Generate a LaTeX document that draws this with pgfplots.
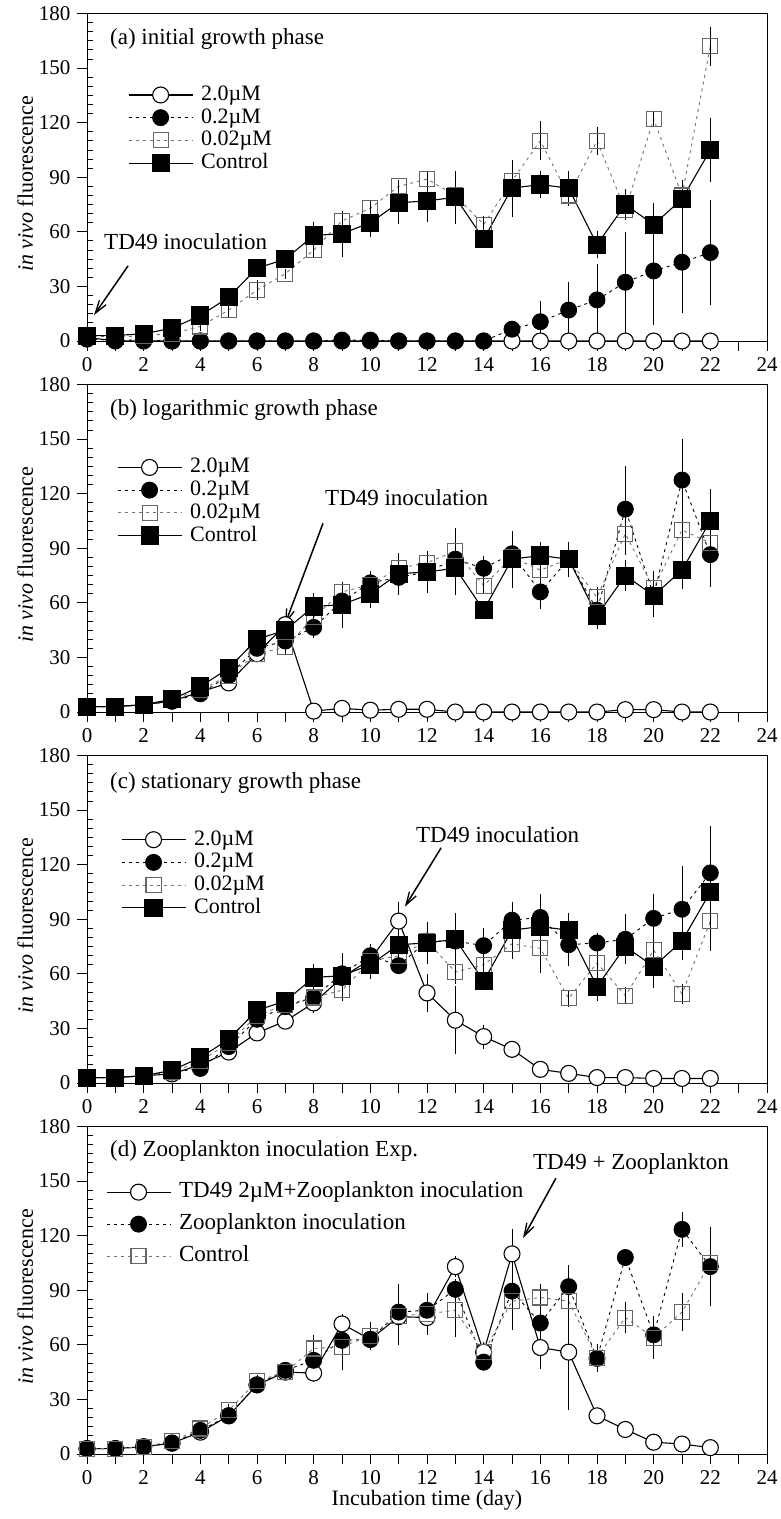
\documentclass[border=0pt]{standalone}
\usepackage{fontspec}
\setmainfont{Liberation Serif}
\usepackage{pgfplots}
\pgfplotsset{compat=1.18}
\usepackage{pgfplotstable}
\usetikzlibrary{arrows.meta}

% ---------- data: day, mean, error ----------
\pgfplotstableread{
x y e
0 3 0.5
1 3 0.5
2 4 0.5
3 7 1
4 14 1.5
5 24 2
6 40 2
7 45 2
8 58 6
9 59 11
10 65 6
11 76 10
12 77 10
13 79 13
14 56 3
15 84 14
16 86 6
17 84 8
18 53 6
19 75 7
20 64 10
21 78 9
22 105 16
}\ctrl

% (a) initial growth phase
\pgfplotstableread{
x y e
0 2 0
1 0 0
2 0 0
3 0 0
4 0 0
5 0 0
6 0 0
7 0 0
8 0 0
9 0 0
10 0 0
11 0 0
12 0 0
13 0 0
14 0 0
15 0 0
16 0 0
17 0 0
18 0 0
19 0 0
20 0 0
21 0 0
22 0 0
}\aA
\pgfplotstableread{
x y e
0 1 0
1 0.5 0
2 0.5 0
3 0 0
4 0 0
5 0 0
6 0 0
7 0 0
8 0 0
9 0.5 1
10 0.5 1
11 0 0
12 0 0
13 0 0
14 0 0
15 6.5 3
16 10.6 9.7
17 17 14
18 22.6 18
19 32.3 26
20 38.5 28
21 43.3 26
22 48.6 27
}\aB
\pgfplotstableread{
x y e
0 3 0.5
1 2 0.5
2 3 0.5
3 4 0.5
4 8 1
5 17 2
6 28 4
7 37 1
8 50 2
9 66 3
10 73 3
11 85 2
12 89 2
13 80 2
14 64 3
15 88 3
16 110 9
17 80 3
18 110 6
19 72 3
20 122 3
21 80 3
22 162 9
}\aC

% (b) logarithmic growth phase
\pgfplotstableread{
x y e
0 3 0
1 3 0
2 4 0
3 6 0.5
4 11 1
5 16 1
6 32 2
7 48 2
8 0.5 0
9 2 0
10 1 0
11 1.5 0
12 1.5 0
13 0 0
14 0 0
15 0 0
16 0 0
17 0 0
18 0 0
19 1.3 0
20 1.3 0
21 0 0
22 0 0
}\bA
\pgfplotstableread{
x y e
0 3 0
1 3 0
2 4 0
3 6 0.5
4 10 1
5 20 1
6 35 2
7 39 2
8 46.5 4
9 61 5
10 71 5
11 74 6
12 77 4
13 84 6
14 79 5
15 87 8
16 66 8
17 84 6
18 56 3
19 111.5 22
20 64 8
21 127.5 21
22 86.5 16
}\bB
\pgfplotstableread{
x y e
0 3 0
1 3 0
2 4 0
3 7 0.5
4 12 1
5 20 1
6 32 2
7 35.5 2
8 52 3
9 66 3
10 70 3
11 79 3
12 82 3
13 88.5 11
14 69.5 3
15 85 8
16 78 5
17 84 4
18 63 4
19 98 10
20 68 8
21 100 15
22 93 8
}\bC

% (c) stationary growth phase
\pgfplotstableread{
x y e
0 3 0
1 3 0
2 4 0
3 5 0.5
4 10 1
5 17 1
6 27.5 1
7 34 1
8 44 4
9 58 3
10 68 3
11 89 9
12 49.5 9
13 34.5 17
14 25.5 5
15 18.5 2
16 7.5 1
17 5.3 1
18 3 0.5
19 3 0.5
20 2.5 0.5
21 2.5 0.5
22 2.5 0.5
}\cA
\pgfplotstableread{
x y e
0 3 0
1 3 0
2 4 0
3 6 0.5
4 8 1
5 20 1
6 35 2
7 42 2
8 47 3
9 60 4
10 70 5
11 64.5 3
12 78 6
13 78 6
14 75.5 8
15 89.5 7
16 91 11
17 76 10
18 77 4
19 79 12
20 90.5 12
21 95.5 22
22 115.5 24
}\cB
\pgfplotstableread{
x y e
0 3 0
1 3 0
2 4 0
3 6 0.5
4 12 1
5 22 1
6 37 2
7 43 2
8 47 3
9 51 4
10 67 5
11 70 3
12 78 4
13 61 5
14 65 4
15 76.5 4
16 74 12
17 46.5 3
18 66 5
19 48 3
20 73 4
21 49 4
22 89 15
}\cC

% (d) zooplankton inoculation
\pgfplotstableread{
x y e
0 3 0
1 3 0
2 4 0
3 6 0.5
4 12 1
5 21 1
6 38 2
7 45 2
8 44.5 3
9 71.5 4
10 63 4
11 75.5 14
12 75 4
13 103 4
14 56 4
15 110 12
16 58.5 10
17 56 30
18 21 2
19 13.5 1
20 6.5 1
21 5.5 1
22 3.5 0.5
}\dA
\pgfplotstableread{
x y e
0 3 0
1 3 0
2 4 0
3 6 0.5
4 13 1
5 21 1
6 38 2
7 46 2
8 51.5 4
9 62.5 4
10 63 4
11 78 14
12 79 3
13 90.5 4
14 50.5 3
15 89.5 5
16 72 5
17 92 10
18 52.5 5
19 108 3
20 65.5 5
21 123.5 8
22 103 20
}\dB

\tikzset{
  txt/.style={font=\fontsize{23}{26}\selectfont, inner sep=0pt},
  arr/.style={line width=1.5pt, -{Straight Barb[length=13pt,width=8pt,line width=1.3pt]}},
}

\pgfplotsset{
  panel/.style={
    scale only axis, width=680pt, height=327.5pt,
    xmin=0, xmax=24, ymin=0, ymax=180,
    xtick={0,2,...,24}, minor x tick num=1,
    ytick={0,30,...,180},
    extra y ticks={5,10,15,20,25,35,40,45,50,55,65,70,75,80,85,95,100,105,110,115,125,130,135,140,145,155,160,165,170,175},
    extra y tick labels={},
    extra y tick style={tick align=inside, major tick length=6pt},
    tick align=outside, major tick length=10pt, minor tick length=10pt,
    xtick pos=bottom, ytick pos=left,
    tick style={black, line width=0.9pt},
    axis line style={line width=0.9pt},
    ticklabel style={font=\fontsize{21}{24}\selectfont},
    xticklabel style={yshift=-3pt},
    yticklabel style={xshift=-3pt},
    /pgf/number format/assume math mode=true,
    clip=false,
    ylabel={\textit{in vivo} fluorescence},
    ylabel style={font=\fontsize{22}{26}\selectfont, at={(axis description cs:-0.091,0.48)}, anchor=center},
    legend cell align=left,
    legend style={draw=none, fill=none, inner sep=0pt, outer sep=0pt, anchor=north west,
      font=\fontsize{22}{25}\selectfont, column sep=8pt, row sep=1.7pt,
      nodes={inner sep=0pt, text height=16pt, text depth=5pt}},
    legend image code/.code={\draw[mark repeat=2,mark phase=2] plot coordinates {(0pt,0pt) (32pt,0pt) (64pt,0pt)};},
  },
  eb/.style={/pgfplots/error bars/y dir=both, /pgfplots/error bars/y explicit,
    /pgfplots/error bars/error bar style={solid, black, line width=0.8pt},
    /pgfplots/error bars/error mark options={solid, black, mark size=3pt, line width=0.8pt}},
  sOpenC/.style={black, line width=1.1pt, mark=*, mark size=8pt, mark options={fill=white, solid, line width=1.1pt}},
  sFillC/.style={black, line width=0.9pt, dash pattern=on 3pt off 4pt, mark=*, mark size=8pt, mark options={fill=black, solid}},
  sOpenS/.style={black!55, line width=0.9pt, dash pattern=on 3pt off 4pt, mark=square, mark size=7.5pt, mark options={solid, draw=black!60, line width=1.1pt}},
  sFillS/.style={black, line width=1.1pt, mark=square*, mark size=8.5pt, mark options={solid, fill=black}},
}

\begin{document}
\begin{tikzpicture}
\useasboundingbox (0pt,0pt) rectangle (780pt,-1519pt);

% (a)
\begin{axis}[panel, at={(87pt,-341pt)}, anchor=south west,
  legend style={at={(axis cs:1.45,141)}}]
\addplot[sOpenC, eb] table[x=x, y=y, y error=e] {\aA};
\addlegendentry{2.0µM}
\addplot[sFillC, eb] table[x=x, y=y, y error=e] {\aB};
\addlegendentry{0.2µM}
\addplot[sOpenS, eb] table[x=x, y=y, y error=e] {\aC};
\addlegendentry{0.02µM}
\addplot[sFillS, eb] table[x=x, y=y, y error=e] {\ctrl};
\addlegendentry{Control}
\node[txt, anchor=west] at (axis cs:0.81,166) {(a) initial growth phase};
\node[txt, anchor=west] at (axis cs:0.6,54.5) {TD49 inoculation};
\draw[arr] (axis cs:1.45,41.3) -- (axis cs:0.25,14.3);
\end{axis}

% (b)
\begin{axis}[panel, at={(87pt,-712pt)}, anchor=south west,
  legend style={at={(axis cs:1.06,140.2)}}]
\addplot[sOpenC, eb] table[x=x, y=y, y error=e] {\bA};
\addlegendentry{2.0µM}
\addplot[sFillC, eb] table[x=x, y=y, y error=e] {\bB};
\addlegendentry{0.2µM}
\addplot[sOpenS, eb] table[x=x, y=y, y error=e] {\bC};
\addlegendentry{0.02µM}
\addplot[sFillS, eb] table[x=x, y=y, y error=e] {\ctrl};
\addlegendentry{Control}
\node[txt, anchor=west] at (axis cs:0.81,166) {(b) logarithmic growth phase};
\node[txt, anchor=west] at (axis cs:8.4,118) {TD49 inoculation};
\draw[arr] (axis cs:8.33,103.7) -- (axis cs:6.99,48.3);
\end{axis}

% (c)
\begin{axis}[panel, at={(87pt,-1083pt)}, anchor=south west,
  legend style={at={(axis cs:1.2,139.5)}}]
\addplot[sOpenC, eb] table[x=x, y=y, y error=e] {\cA};
\addlegendentry{2.0µM}
\addplot[sFillC, eb] table[x=x, y=y, y error=e] {\cB};
\addlegendentry{0.2µM}
\addplot[sOpenS, eb] table[x=x, y=y, y error=e] {\cC};
\addlegendentry{0.02µM}
\addplot[sFillS, eb] table[x=x, y=y, y error=e] {\ctrl};
\addlegendentry{Control}
\node[txt, anchor=west] at (axis cs:0.81,165) {(c) stationary growth phase};
\node[txt, anchor=west] at (axis cs:11.61,136.5) {TD49 inoculation};
\draw[arr] (axis cs:12.5,129.3) -- (axis cs:11.22,96.9);
\end{axis}

% (d)
\begin{axis}[panel, at={(87pt,-1454pt)}, anchor=south west,
  xlabel={Incubation time (day)},
  xlabel style={font=\fontsize{22}{26}\selectfont, at={(axis description cs:0.5,-0.14)}, anchor=center},
  legend style={at={(axis cs:0.67,149.7)}, row sep=11pt, font=\fontsize{23}{26}\selectfont}]
\addplot[sOpenC, eb] table[x=x, y=y, y error=e] {\dA};
\addlegendentry{TD49 2µM+Zooplankton inoculation}
\addplot[sFillC, eb] table[x=x, y=y, y error=e] {\dB};
\addlegendentry{Zooplankton inoculation}
\addplot[sOpenS, eb] table[x=x, y=y, y error=e] {\ctrl};
\addlegendentry{Control}
\node[txt, anchor=west] at (axis cs:0.81,166.5) {(d) Zooplankton inoculation Exp.};
\node[txt, anchor=west] at (axis cs:15.74,159.3) {TD49 + Zooplankton};
\draw[arr] (axis cs:16.55,151.6) -- (axis cs:15.39,118.7);
\end{axis}
\end{tikzpicture}
\end{document}
